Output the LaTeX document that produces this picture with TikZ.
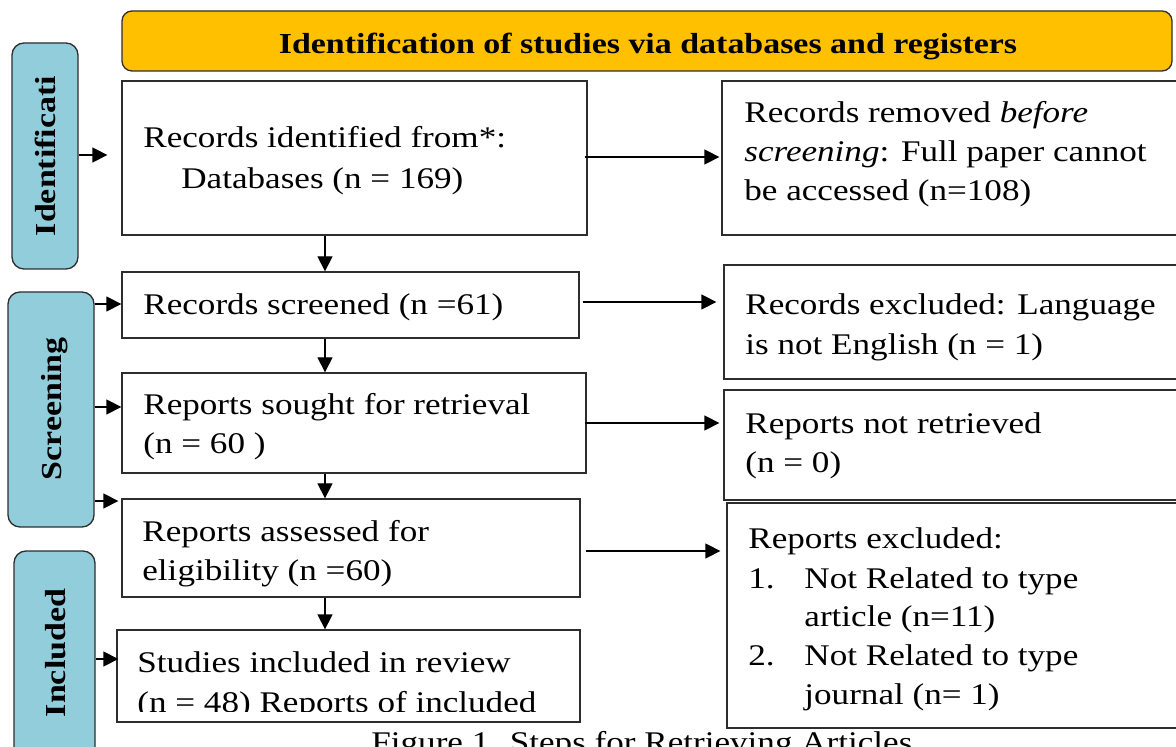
\documentclass[tikz,border=0pt]{standalone}
\usepackage{fontspec}
\setmainfont{Liberation Serif}[FakeStretch=1.17]
\usetikzlibrary{arrows.meta,fit}
\definecolor{hdr}{RGB}{255,192,0}
\definecolor{side}{RGB}{146,205,220}
\definecolor{edge}{RGB}{45,45,45}
\begin{document}
\begin{tikzpicture}[x=0.5pt,y=-0.5pt,
  box/.style={draw=edge, line width=0.65pt, inner sep=0pt, fill=white},
  sidebox/.style={draw=edge, line width=0.65pt, rounded corners=6pt, fill=side, inner sep=0pt},
  hdrbox/.style={draw=edge, line width=0.65pt, rounded corners=5pt, fill=hdr, inner sep=0pt},
  txt/.style={anchor=base west, inner sep=0pt, font=\fontsize{15}{19.5}\selectfont},
  sidetxt/.style={anchor=base, inner sep=0pt, rotate=90, font=\fontsize{14.5}{17}\selectfont\bfseries},
  arr/.style={-{Triangle[length=7.5pt,width=7.5pt]}, line width=0.65pt, draw=black},
]
\useasboundingbox (0,0) rectangle (1176,747);
\clip (0,0) rectangle (1176,747);
\fill[white] (0,0) rectangle (1176,747);

% header
\node[hdrbox, fit={(122,11)(1172,71)}] (hdr) {};
\node[anchor=base, inner sep=0pt, font=\fontsize{14.5}{17}\selectfont\bfseries] (hdrt) at (648,54) {Identification of studies via databases and registers};

% side boxes
\node[sidebox, fit={(12,43)(78,269)}] (id) {};
\node[sidebox, fit={(8,292)(94,527)}] (scr) {};
\node[sidebox, fit={(14,551)(95,770)}] (inc) {};
\node[sidetxt] (idt) at (55,156) {Identificati};
\node[sidetxt] (scrt) at (61,409) {Screening};
\node[sidetxt] (inct) at (65,653) {Included};

% main column
\node[box, fit={(122,81)(587,235)}] (b1) {};
\node[box, fit={(122,272)(579,338)}] (b2) {};
\node[box, fit={(122,373)(586,473)}] (b3) {};
\node[box, fit={(122,499)(580,597)}] (b4) {};
\node[box, fit={(117,630)(580,722)}] (b5) {};

% right column
\node[box, fit={(722,81)(1190,235)}] (r1) {};
\node[box, fit={(724,265)(1190,379)}] (r2) {};
\node[box, fit={(724,390)(1190,500)}] (r3) {};
\node[box, fit={(727,503)(1190,728)}] (r4) {};

% texts
\node[txt] (b1a) at (143,148) {Records identified from*:};
\node[txt] (b1b) at (181,189) {Databases (n = 169)};
\node[txt] (r1a) at (744,123) {Records removed \textit{before}};
\node[txt] (r1b) at (744,162) {\textit{screening}: Full paper cannot};
\node[txt] (r1c) at (744,201) {be accessed (n=108)};
\node[txt] (b2a) at (143,315) {Records screened (n =61)};
\node[txt] (r2a) at (745,315) {Records excluded: Language};
\node[txt] (r2b) at (745,355) {is not English (n = 1)};
\node[txt] (b3a) at (143,415) {Reports sought for retrieval};
\node[txt] (b3b) at (143,454) {(n = 60 )};
\node[txt] (r3a) at (745,434) {Reports not retrieved};
\node[txt] (r3b) at (745,473) {(n = 0)};
\node[txt] (b4a) at (142,542) {Reports assessed for};
\begin{scope}
  \clip (110,555) rectangle (600,587);
  \node[txt] (b4b) at (142,580) {eligibility (n =60)};
\end{scope}
\node[txt] (r4a) at (748,548) {Reports excluded:};
\node[txt] (r4n1) at (748,588) {1.};
\node[txt] (r4b) at (804,588) {Not Related to type};
\node[txt] (r4c) at (804,626) {article (n=11)};
\node[txt] (r4n2) at (748,665) {2.};
\node[txt] (r4d) at (804,665) {Not Related to type};
\node[txt] (r4e) at (804,704) {journal (n= 1)};
\node[txt] (b5a) at (137,672) {Studies included in review};
\begin{scope}
  \clip (110,680) rectangle (600,711);
  \node[txt] (b5b) at (137,712) {(n = 48) Reports of included};
\end{scope}
\node[txt] (cap) at (371,752) {Figure 1. Steps for Retrieving Articles};

% vertical arrows
\coordinate (cx) at (325,0);
\draw[arr] (b1.south -| cx) -- (b2.north -| cx);
\draw[arr] (b2.south -| cx) -- (b3.north -| cx);
\draw[arr] (b3.south -| cx) -- (b4.north -| cx);
\draw[arr] (b4.south -| cx) -- (b5.north -| cx);

% side arrows
\coordinate (y1) at (0,155);
\coordinate (y2) at (0,304);
\coordinate (y3) at (0,407);
\coordinate (y4) at (0,501);
\coordinate (y5) at (0,659);
\draw[arr, shorten >=7pt] (y1 -| id.east) -- (y1 -| b1.west);
\draw[arr] (y2 -| scr.east) -- (y2 -| b2.west);
\draw[arr] (y3 -| scr.east) -- (y3 -| b3.west);
\draw[arr, shorten >=1.5pt] (y4 -| scr.east) -- (y4 -| b4.west);
\draw[arr, shorten >=-1pt] (y5 -| inc.east) -- (y5 -| b5.west);

% right arrows
\coordinate (h1) at (0,157);
\coordinate (h2) at (0,302);
\coordinate (h3) at (0,423);
\coordinate (h4) at (0,551);
\draw[arr, shorten <=-1.5pt, shorten >=1pt] (h1 -| b1.east) -- (h1 -| r1.west);
\draw[arr, shorten <=1.5pt, shorten >=3.5pt] (h2 -| b2.east) -- (h2 -| r2.west);
\draw[arr, shorten <=-1pt, shorten >=2pt] (h3 -| b3.east) -- (h3 -| r3.west);
\draw[arr, shorten <=2.5pt, shorten >=3pt] (h4 -| b4.east) -- (h4 -| r4.west);
\end{tikzpicture}
\end{document}
